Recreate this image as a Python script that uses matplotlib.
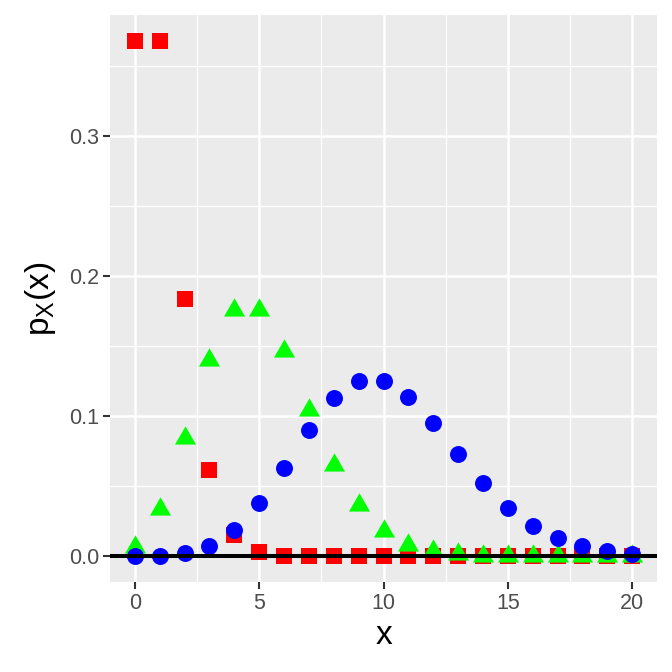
import matplotlib.pyplot as plt
from matplotlib.ticker import MultipleLocator

plt.rcParams['font.family'] = ['Liberation Sans', 'DejaVu Sans']

x = list(range(0, 21))

# lambda = 1 (red squares)
p_red = [0.3679, 0.3679, 0.1839, 0.0613, 0.0153, 0.0031, 0.0005, 0.0001,
         0.0, 0.0, 0.0, 0.0, 0.0, 0.0, 0.0, 0.0, 0.0, 0.0, 0.0, 0.0, 0.0]
# lambda = 5 (green triangles)
p_green = [0.0067, 0.0337, 0.0842, 0.1404, 0.1755, 0.1755, 0.1462, 0.1044,
           0.0653, 0.0363, 0.0181, 0.0082, 0.0034, 0.0013, 0.0005, 0.0002,
           0.0001, 0.0, 0.0, 0.0, 0.0]
# lambda = 10 (blue circles)
p_blue = [0.0000, 0.0005, 0.0023, 0.0076, 0.0189, 0.0378, 0.0631, 0.0901,
          0.1126, 0.1251, 0.1251, 0.1137, 0.0948, 0.0729, 0.0521, 0.0347,
          0.0217, 0.0128, 0.0071, 0.0037, 0.0019]

tri = [(0, 1), (0.866, -0.5), (-0.866, -0.5)]

fig = plt.figure(figsize=(6.72, 6.72), dpi=100)
ax = fig.add_axes([110 / 672, 1 - 582 / 672, 547 / 672, 567 / 672])
ax.set_facecolor('#EBEBEB')

ax.plot(x, p_red, linestyle='none', marker='s', markersize=11.5,
        color='#FF0000', markeredgewidth=0, zorder=3)
ax.plot(x, p_green, linestyle='none', marker=tri, markersize=17.5,
        color='#00FF00', markeredgewidth=0, zorder=4)
ax.plot(x, p_blue, linestyle='none', marker='o', markersize=12.2,
        color='#0000FF', markeredgewidth=0, zorder=5)
ax.axhline(0, color='black', linewidth=2.9, zorder=6)

ax.set_xlim(-1, 21)
ax.set_ylim(-0.0184, 0.3863)
ax.xaxis.set_major_locator(MultipleLocator(5))
ax.xaxis.set_minor_locator(MultipleLocator(2.5))
ax.yaxis.set_major_locator(MultipleLocator(0.1))
ax.yaxis.set_minor_locator(MultipleLocator(0.05))
ax.set_yticks([0, 0.1, 0.2, 0.3])
ax.set_yticklabels(['0.0', '0.1', '0.2', '0.3'])

ax.grid(which='major', color='white', linewidth=1.8)
ax.grid(which='minor', color='white', linewidth=0.9)
ax.set_axisbelow(True)
for s in ax.spines.values():
    s.set_visible(False)

ax.tick_params(which='major', length=5, width=1.5, color='#333333',
               labelsize=15.5, labelcolor='#4D4D4D', pad=3)
ax.tick_params(which='minor', length=0)

ax.set_xlabel('x', fontsize=24, labelpad=4)
ax.set_ylabel(r'$\mathregular{p_X(x)}$', fontsize=24, labelpad=8)

fig.savefig('out.png', dpi=100)
